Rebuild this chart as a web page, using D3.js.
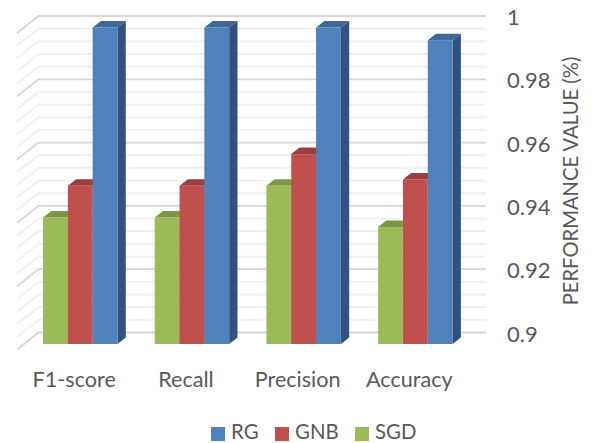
<!DOCTYPE html>
<html>
<head>
<meta charset="utf-8">
<script src="https://cdn.jsdelivr.net/npm/d3@7"></script>
<style>
  html, body { margin: 0; background: #fff; }
  svg { display: block; }
</style>
</head>
<body>
<script>
const W = 595, H = 443;

const categories = ['F1-score', 'Recall', 'Precision', 'Accuracy'];
const seriesNames = ['SGD', 'GNB', 'RG'];
const sgdValues = [0.94, 0.94, 0.95, 0.937];
const gnbValues = [0.95, 0.95, 0.96, 0.952];
const rgValues = [1, 1, 1, 0.996];
const majorTicks = [0.9, 0.92, 0.94, 0.96, 0.98, 1];
const minorTicks = [0.904, 0.908, 0.912, 0.916, 0.924, 0.928, 0.932, 0.936,
  0.944, 0.948, 0.952, 0.956, 0.964, 0.968, 0.972, 0.976, 0.984, 0.988, 0.992, 0.996];
const legendOrder = ['RG', 'GNB', 'SGD'];

const FONT = 'Lato, "Open Sans", sans-serif';
const TEXT = '#595959';
const FRONT = { SGD: '#9bbb59', GNB: '#c0504d', RG: '#4f81bd' };
const TOP = { SGD: '#7d9747', GNB: '#9b403e', RG: '#3f6797' };
const SIDE = { SGD: '#6b813d', GNB: '#843735', RG: '#31527c' };
const valuesBySeries = { SGD: sgdValues, GNB: gnbValues, RG: rgValues };

const svg = d3.select('body').append('svg')
  .attr('width', W).attr('height', H)
  .attr('viewBox', `0 0 ${W} ${H}`);
svg.append('rect').attr('width', W).attr('height', H).attr('fill', '#fff');

// back wall scale; the bars stand further forward, so they get the same scale shifted down
const yWall = d3.scaleLinear().domain([0.9, 1]).range([332.5, 16]);
const yBar = d3.scaleLinear().domain([0.9, 1]).range([344, 27.5]);
const x0 = d3.scaleBand().domain(categories).range([24.4, 471.2])
  .paddingInner(1 / 3).paddingOuter(1 / 6);
const x1 = d3.scaleBand().domain(seriesNames).range([0, x0.bandwidth()]);

const wallLeft = 38.5, wallRight = 486;
const floorDx = 21.5, floorDy = 17;   // wall to front edge of the floor
const depthDx = 8.3, depthDy = 6.5;   // bar depth

function gridLines(ticks, color) {
  const g = svg.append('g').attr('fill', 'none').attr('stroke', color).attr('stroke-width', 1.8);
  g.selectAll('path').data(ticks).join('path')
    .attr('d', d => `M${wallLeft - floorDx},${yWall(d) + floorDy}L${wallLeft},${yWall(d)}L${wallRight},${yWall(d)}`);
}
gridLines(minorTicks, '#f0f0f0');
gridLines(majorTicks, '#d6d6d6');

// bars, left to right so each one covers the side of the one before it
seriesNames.forEach(name => {
  const g = svg.append('g');
  const vals = categories.map((c, i) => ({ c, v: valuesBySeries[name][i] }));
  const bw = x1.bandwidth();
  const left = d => x0(d.c) + x1(name);
  g.selectAll('.side').data(vals).join('path').attr('class', 'side')
    .attr('fill', SIDE[name])
    .attr('d', d => {
      const r = left(d) + bw;
      return `M${r},${yBar(d.v)}L${r + depthDx},${yBar(d.v) - depthDy}L${r + depthDx},${yBar(0.9) - depthDy}L${r},${yBar(0.9)}Z`;
    });
  g.selectAll('.top').data(vals).join('path').attr('class', 'top')
    .attr('fill', TOP[name])
    .attr('d', d => {
      const l = left(d), t = yBar(d.v);
      return `M${l},${t}L${l + depthDx},${t - depthDy}L${l + bw + depthDx},${t - depthDy}L${l + bw},${t}Z`;
    });
  g.selectAll('.front').data(vals).join('rect').attr('class', 'front')
    .attr('x', left).attr('y', d => yBar(d.v))
    .attr('width', bw).attr('height', d => yBar(0.9) - yBar(d.v))
    .attr('fill', FRONT[name]);
});

// value axis on the right
const yAxis = svg.append('g')
  .attr('transform', 'translate(507,1.5)')
  .call(d3.axisRight(yWall).tickValues(majorTicks).tickFormat(d3.format('~g')).tickSize(0).tickPadding(0));
yAxis.select('.domain').remove();
yAxis.selectAll('text').attr('font-family', FONT).attr('font-size', 22).attr('fill', TEXT);

// category axis
const xAxis = svg.append('g')
  .attr('transform', 'translate(-6,372)')
  .call(d3.axisBottom(x0).tickSize(0).tickPadding(0));
xAxis.select('.domain').remove();
xAxis.selectAll('text').attr('font-family', FONT).attr('font-size', 21.6).attr('fill', TEXT);

svg.append('text')
  .attr('transform', 'translate(573,181) rotate(-90)')
  .attr('text-anchor', 'middle').attr('dominant-baseline', 'middle')
  .attr('font-family', FONT).attr('font-size', 20.2).attr('fill', TEXT)
  .text('PERFORMANCE VALUE (%)');

// legend
const legendX = d3.scaleOrdinal().domain(legendOrder).range([211, 275, 355]);
const legend = svg.append('g').selectAll('g').data(legendOrder).join('g')
  .attr('transform', d => `translate(${legendX(d)},427)`);
legend.append('rect').attr('width', 14).attr('height', 14).attr('fill', d => FRONT[d]);
legend.append('text')
  .attr('x', 20).attr('y', 7).attr('dominant-baseline', 'middle')
  .attr('font-family', FONT).attr('font-size', 20.4).attr('fill', TEXT)
  .text(d => d);
</script>
</body>
</html>
